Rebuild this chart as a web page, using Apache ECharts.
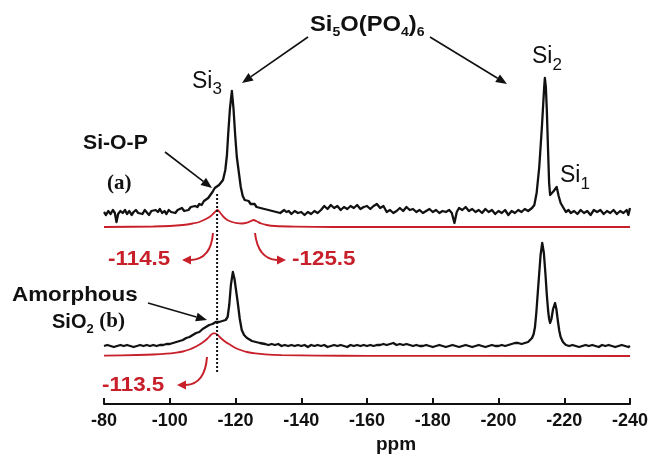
<!DOCTYPE html>
<html>
<head>
<meta charset="utf-8">
<script src="https://cdn.jsdelivr.net/npm/echarts@6/dist/echarts.min.js"></script>
<style>
  html, body { margin: 0; padding: 0; background: #fff; }
  #chart { width: 652px; height: 460px; }
</style>
</head>
<body>
<div id="chart"></div>
<script>
// x ticks (ppm)
var ppmTicks = [-80, -100, -120, -140, -160, -180, -200, -220, -240];

// spectrum (a), [ppm, intensity above its own baseline]
var specA = [
  [-80, 1], [-80.6, -2], [-81.3, 2], [-82, -1], [-82.7, 3], [-83.3, 0], [-83.8, -9], [-84.3, -1], [-85, 2],
  [-85.7, 0], [-86.4, 3], [-87, -1], [-87.7, 2], [-88.4, -2], [-89, 1], [-89.7, 3], [-90.4, 0], [-91, 2],
  [-91.7, -1], [-92.4, 3], [-93, 1], [-93.7, -2], [-94.4, 2], [-95, 0], [-95.7, 3], [-96.4, 1], [-97, 4],
  [-97.7, 0], [-98.4, 2], [-99, -1], [-99.7, 3], [-100.4, 1], [-101, 2], [-101.7, 0], [-102.4, 3], [-103, 2],
  [-103.7, 5], [-104.4, 2], [-105, 4], [-105.7, 3], [-106.4, 6], [-107, 4], [-107.7, 7], [-108.4, 6], [-109, 9],
  [-109.7, 8], [-110.4, 12], [-111, 11], [-111.7, 15], [-112.3, 17], [-113, 21], [-113.7, 25], [-114.3, 24],
  [-115, 28], [-115.6, 29], [-116.2, 33], [-116.9, 43], [-117.4, 58], [-117.8, 80], [-118.3, 104], [-118.9, 122],
  [-119.4, 104], [-119.9, 78], [-120.4, 56], [-121, 41], [-121.6, 26], [-122.2, 17], [-122.8, 13], [-123.4, 11],
  [-124, 12], [-124.6, 9], [-125.2, 8], [-125.8, 9], [-126.4, 6], [-127, 7], [-127.6, 5], [-128.2, 6], [-128.8, 4],
  [-129.4, 5], [-130, 3], [-130.6, 5], [-131.2, 2], [-131.8, 4], [-132.4, 1], [-133, 3], [-133.6, 0], [-134.2, 2],
  [-134.8, 3], [-135.5, 1], [-136.2, 2], [-137, -1], [-138, 2], [-139, 0], [-140, 1], [-141, -2], [-142, 1],
  [-143, -1], [-144, 2], [-145, 0], [-146, 3], [-147, 7], [-148, 4], [-149, 8], [-150, 5], [-151, 7], [-152, 3],
  [-153, 6], [-154, 4], [-155, 7], [-156, 5], [-157, 8], [-158, 4], [-159, 6], [-160, 7], [-161, 4], [-162, 7],
  [-163, 9], [-164, 5], [-165, 7], [-166, 1], [-167, 3], [-168, 0], [-169, 2], [-170, 5], [-171, 2], [-172, 6],
  [-173, 3], [-174, 4], [-175, 1], [-176, 3], [-177, 0], [-178, 2], [-179, 4], [-180, 1], [-181, 3], [-182, 0],
  [-183, 2], [-184, 1], [-185, 3], [-185.8, 0], [-186.6, -10], [-187.3, 1], [-188, 5], [-189, 3], [-190, 6],
  [-191, 2], [-192, 4], [-193, 1], [-194, 3], [-195, 0], [-196, 4], [-197, 1], [-198, 3], [-199, -1], [-200, 2],
  [-201, 0], [-202, 3], [-203, -2], [-204, 2], [-205, 0], [-206, 3], [-207, 1], [-208, 4], [-209, 2], [-210.2, 5],
  [-210.9, 8], [-211.6, 20], [-212.4, 46], [-213.2, 86], [-213.9, 126], [-214.1, 135], [-214.4, 126], [-214.7, 103],
  [-215.1, 60], [-215.4, 30], [-215.7, 18], [-216.2, 17], [-216.8, 22], [-217.3, 21], [-217.7, 26], [-218.3, 17],
  [-218.9, 10], [-219.6, 6], [-220.5, 1], [-221.3, 3], [-222, 0], [-223, 2], [-224, -1], [-225, 3], [-226, 0],
  [-227, 2], [-228, -2], [-229, 3], [-230, 1], [-231, 3], [-232, -1], [-233, 2], [-234, 0], [-235, 3], [-236, -1],
  [-237, 2], [-238, 0], [-239, 3], [-239.5, -2], [-240, 5]
];

// fitted components (a)
var fitA = [
  [-80, 0], [-95, 0.5], [-100, 1], [-104, 2], [-107, 3.5], [-109, 5], [-111, 8], [-112.5, 11], [-113.6, 14.5],
  [-114.5, 17], [-115.4, 14], [-116.4, 10], [-117.5, 7], [-119, 5], [-120.5, 3.8], [-122, 3.5], [-123.5, 4.3],
  [-124.7, 6], [-125.5, 7], [-126.4, 5.8], [-127.8, 3.5], [-129.5, 2], [-132, 1], [-138, 0.4], [-150, 0], [-240, 0]
];

// spectrum (b)
var specB = [
  [-80, 1], [-81, 2], [-82, 1], [-83, 0], [-84, 1], [-85, 2], [-86, 1], [-87, 2], [-88, 1], [-89, 0], [-90, 1],
  [-91, 2], [-92, 1], [-93, 2], [-94, 1], [-95, 2], [-96, 1], [-97, 2], [-98, 2], [-99, 3], [-100, 3], [-101, 4],
  [-102, 5], [-103, 6], [-104, 7], [-105, 9], [-106, 10], [-107, 12], [-108, 14], [-109, 15], [-110, 18], [-111, 20],
  [-112, 22], [-113, 23], [-114, 25], [-115, 25], [-116, 26], [-117, 27], [-117.6, 30], [-118.1, 42], [-118.6, 62],
  [-119.2, 75], [-119.7, 68], [-120.2, 56], [-120.7, 44], [-121.3, 28], [-121.9, 17], [-122.6, 12], [-123.5, 9],
  [-125, 6], [-126.2, 5], [-127.4, 4], [-129, 3], [-130, 2], [-131, 3], [-132, 2], [-133, 3], [-134, 1], [-135, 2],
  [-136, 1], [-137, 2], [-138, 1], [-139, 2], [-140, 1], [-141, 2], [-142, 0], [-143, 2], [-144, 1], [-145, 2],
  [-146, 1], [-147, 2], [-148, 0], [-149, 1], [-150, 2], [-151, 1], [-152, 2], [-153, 1], [-154, 0], [-155, 2],
  [-156, 1], [-157, 2], [-158, 1], [-159, 2], [-160, 1], [-161, 2], [-162, 1], [-163, 2], [-164, 2], [-165, 3],
  [-166, 2], [-167, 3], [-168, 4], [-169, 2], [-170, 3], [-171, 2], [-172, 3], [-173, 2], [-174, 1], [-175, 2],
  [-176, 1], [-177, 1], [-178, 2], [-179, 1], [-180, 0], [-181, 1], [-182, 2], [-183, 1], [-184, 0], [-185, 1],
  [-186, 2], [-187, 1], [-188, 0], [-189, 1], [-190, 2], [-191, 1], [-192, 0], [-193, 1], [-194, 2], [-195, 1],
  [-196, 0], [-197, 1], [-198, 2], [-199, 1], [-200, 1], [-201, 2], [-202, 1], [-203, 2], [-204, 3], [-205, 4],
  [-206, 4], [-207, 3], [-208, 4], [-209, 5], [-209.6, 6], [-210.2, 9], [-210.7, 13], [-211.1, 20], [-211.5, 34],
  [-211.9, 52], [-212.3, 70], [-212.8, 92], [-213.3, 104], [-213.8, 94], [-214.3, 72], [-214.7, 52], [-215.1, 36],
  [-215.4, 28], [-215.7, 24], [-216.1, 28], [-216.6, 38], [-217.2, 44], [-217.6, 38], [-218.1, 25], [-218.5, 16],
  [-218.9, 10], [-219.6, 5], [-220.5, 2], [-221.5, 1], [-222.5, 2], [-223.5, 1], [-224.5, 0], [-225.5, 1], [-226.5, 2],
  [-227.5, 1], [-228.5, 2], [-229.5, 1], [-230.5, 0], [-231.5, 2], [-232.5, 1], [-233.5, 2], [-234.5, 1], [-235.5, 0],
  [-236.5, 1], [-237.5, 2], [-238.5, 1], [-239.5, 0], [-240, 1]
];

// fitted component (b)
var fitB = [
  [-80, 0.3], [-90, 1], [-95, 1.5], [-99, 2.3], [-102, 3.4], [-104, 4.5], [-106, 6.5], [-108, 9.5], [-110, 13.5],
  [-111.5, 17.5], [-112.5, 21], [-113.2, 22.6], [-113.8, 22.6], [-114.6, 21], [-115.5, 18], [-117, 14], [-118.5, 11],
  [-120, 8], [-121.5, 6], [-123.5, 4], [-126, 2.6], [-129, 1.6], [-134, 0.9], [-145, 0.4], [-160, 0.2], [-240, 0]
];

// vertical stacking of the traces (y units)
var offA = 191, offFitA = 177, offB = 57, offFitB = 48;
var guidePpm = -114.4, guideLow = 32, guideHigh = 212;

var BLACK = '#111111', RED = '#c8202a';
var SANS = '"Liberation Sans", Arial, sans-serif';
var SERIF = '"Liberation Serif", "Times New Roman", serif';

function shift(arr, off) {
  return arr.map(function (p) { return [p[0], p[1] + off]; });
}

function arrow(x1, y1, x2, y2, color, w) {
  var a = Math.atan2(y2 - y1, x2 - x1), L = 11, W = 4.5;
  var bx = x2 - L * Math.cos(a), by = y2 - L * Math.sin(a);
  return [
    { type: 'line', shape: { x1: x1, y1: y1, x2: bx, y2: by }, style: { stroke: color, lineWidth: w || 1.6 } },
    { type: 'polygon', shape: { points: [[x2, y2], [bx + W * Math.sin(a), by - W * Math.cos(a)], [bx - W * Math.sin(a), by + W * Math.cos(a)]] }, style: { fill: color } }
  ];
}

function curvedArrow(x1, y1, cx, cy, x2, y2, dir, color) {
  // dir: +1 head points right, -1 left
  var L = 9, W = 4.5;
  var tip = x2 + dir * L;
  return [
    { type: 'bezierCurve', shape: { x1: x1, y1: y1, cpx1: cx, cpy1: cy, x2: x2, y2: y2 }, style: { stroke: color, lineWidth: 2, fill: null } },
    { type: 'polygon', shape: { points: [[tip, y2], [x2, y2 - W], [x2, y2 + W]] }, style: { fill: color } }
  ];
}

function label(x, y, text, opts) {
  opts = opts || {};
  return {
    type: 'text', x: x, y: y, scaleX: opts.sx || 1,
    style: {
      x: 0, y: 0, text: text, fill: opts.color || BLACK,
      fontSize: opts.size || 20, fontWeight: opts.weight || 'bold', fontFamily: opts.family || SANS,
      align: opts.align || 'left', verticalAlign: 'middle'
    }
  };
}

var chart = echarts.init(document.getElementById('chart'), null, { renderer: 'canvas' });

var graphics = [];
// title with subscripts (subscript pushed down through top padding)
graphics.push({
  type: 'text', x: 310, y: 11, scaleX: 1.08,
  style: {
    x: 0, y: 0, verticalAlign: 'top', fill: BLACK,
    text: '{m|Si}{s|5}{m|O(PO}{s|4}{m|)}{s|6}',
    rich: {
      m: { fontSize: 22, fontWeight: 'bold', fontFamily: SANS, lineHeight: 28, fill: BLACK },
      s: { fontSize: 13, fontWeight: 'bold', fontFamily: SANS, lineHeight: 12, padding: [14, 0, 0, 0], fill: BLACK }
    }
  }
});
var siRich = {
  m: { fontSize: 23, fontFamily: SANS, lineHeight: 36, fill: BLACK },
  s: { fontSize: 17, fontFamily: SANS, lineHeight: 17, padding: [16, 0, 0, 0], fill: BLACK }
};
[[192, 63.5, '3'], [532, 39, '2'], [560, 158, '1']].forEach(function (d) {
  graphics.push({
    type: 'text', x: d[0], y: d[1],
    style: { x: 0, y: 0, verticalAlign: 'top', text: '{m|Si}{s|' + d[2] + '}', rich: siRich }
  });
});
graphics.push(label(83, 143, 'Si-O-P', { sx: 1.06 }));
graphics.push(label(107, 184, '(a)', { family: SERIF, size: 21 }));
graphics.push(label(12, 295, 'Amorphous', { sx: 1.12 }));
graphics.push({
  type: 'text', x: 52, y: 308,
  style: {
    x: 0, y: 0, verticalAlign: 'top', text: '{m|SiO}{s|2}{m| }{b|(b)}',
    rich: {
      m: { fontSize: 20, fontWeight: 'bold', fontFamily: SANS, lineHeight: 28, fill: BLACK },
      s: { fontSize: 13, fontWeight: 'bold', fontFamily: SANS, lineHeight: 12, padding: [14, 0, 0, 0], fill: BLACK },
      b: { fontSize: 21, fontWeight: 'bold', fontFamily: SERIF, lineHeight: 28, fill: BLACK }
    }
  }
});
graphics.push(label(108, 259, '-114.5', { color: RED, sx: 1.12 }));
graphics.push(label(292, 259, '-125.5', { color: RED, sx: 1.12 }));
graphics.push(label(102, 385, '-113.5', { color: RED, sx: 1.12 }));
graphics.push(label(396, 445, 'ppm', { size: 19, align: 'center' }));

graphics = graphics
  .concat(arrow(308, 37, 242, 83, BLACK))
  .concat(arrow(430, 37, 507, 84, BLACK))
  .concat(arrow(165, 152, 212, 188, BLACK))
  .concat(arrow(148, 303, 207, 320, BLACK))
  .concat(curvedArrow(213, 233, 211, 259, 191, 260, -1, RED))
  .concat(curvedArrow(255, 233, 258, 259, 277, 260, 1, RED))
  .concat(curvedArrow(207, 357, 205, 384, 186, 385, -1, RED));

var option = {
  backgroundColor: '#ffffff',
  animation: false,
  grid: { left: 104, right: 22, top: 4, height: 400 },
  xAxis: {
    type: 'value', min: -240, max: -80, interval: 20, inverse: true,
    axisLine: { lineStyle: { color: BLACK, width: 2 } },
    axisTick: { inside: true, length: 6, lineStyle: { color: BLACK, width: 2 } },
    axisLabel: {
      color: BLACK, fontSize: 18, fontWeight: 'bold', fontFamily: SANS, margin: 8,
      formatter: function (v) { return ppmTicks.indexOf(v) >= 0 ? String(v) : ''; }
    },
    splitLine: { show: false }
  },
  yAxis: { type: 'value', min: 0, max: 400, show: false },
  series: [
    { type: 'line', data: shift(fitA, offFitA), showSymbol: false, smooth: 0.3, lineStyle: { color: RED, width: 1.8 } },
    { type: 'line', data: shift(fitB, offFitB), showSymbol: false, smooth: 0.3, lineStyle: { color: RED, width: 1.8 } },
    { type: 'line', data: shift(specA, offA), showSymbol: false, lineStyle: { color: BLACK, width: 2.3, join: 'round' } },
    { type: 'line', data: shift(specB, offB), showSymbol: false, lineStyle: { color: BLACK, width: 2.3, join: 'round' } },
    { type: 'line', data: [[guidePpm, guideLow], [guidePpm, guideHigh]], showSymbol: false,
      lineStyle: { color: BLACK, width: 2, type: [2, 2] } }
  ],
  graphic: graphics
};
chart.setOption(option);
</script>
</body>
</html>
